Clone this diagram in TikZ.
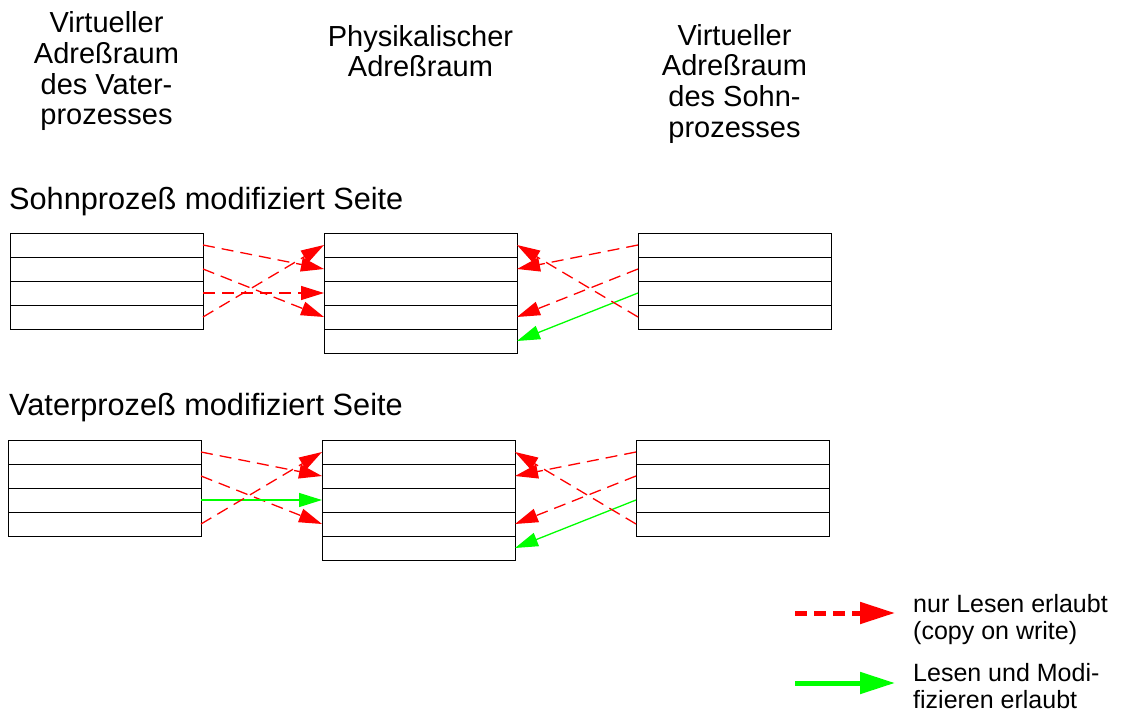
\documentclass[tikz,border=0pt]{standalone}
\usepackage{fontspec}
\setmainfont{Liberation Sans}
\usetikzlibrary{arrows.meta}

\tikzset{
  zeile/.style={draw, line width=0.8pt, minimum width=193pt, minimum height=24pt,
    inner sep=0pt, outer sep=0pt, anchor=north west},
  kopf/.style={anchor=north, align=center, inner sep=0pt,
    font=\fontsize{29pt}{30.7pt}\selectfont},
  titel/.style={anchor=base west, inner sep=0pt, font=\fontsize{30.7pt}{31pt}\selectfont},
  legtext/.style={anchor=north west, align=left, inner sep=0pt,
    font=\fontsize{25pt}{27pt}\selectfont},
  lesen/.style={draw=red, line width=1.3pt, dash pattern=on 12pt off 7pt,
    -{Triangle[length=23pt,width=14pt]}},
  schreiben/.style={draw=green, line width=1.3pt, -{Triangle[length=23pt,width=14pt]}},
}

\begin{document}
\begin{tikzpicture}[x=1pt,y=-1pt]
  \useasboundingbox (0,0) rectangle (1122,712);

  % column headings
  \node[kopf] (hv) at (106.5,11.5) {Virtueller\\Adreßraum\\des Vater-\\prozesses};
  \node[kopf] (hp) at (420.5,25) {Physikalischer\\Adreßraum};
  \node[kopf] (hs) at (734.5,24) {Virtueller\\Adreßraum\\des Sohn-\\prozesses};

  % Sohnprozess modifiziert Seite
  \node[titel] (ts) at (9,209) {Sohnprozeß modifiziert Seite};
  \foreach \i in {1,...,4} {
    \node[zeile] (sv\i) at (10,209+24*\i) {};
    \node[zeile] (ss\i) at (638,209+24*\i) {};
  }
  \foreach \i in {1,...,5}
    \node[zeile] (sp\i) at (324,209+24*\i) {};

  \draw[lesen] (sv1.east) -- (sp2.west);
  \draw[lesen] (sv2.east) -- (sp4.west);
  \draw[lesen] (sv3.east) -- (sp3.west);
  \draw[lesen] (sv4.east) -- (sp1.west);
  \draw[lesen] (ss1.west) -- (sp2.east);
  \draw[lesen] (ss2.west) -- (sp4.east);
  \draw[schreiben] (ss3.west) -- (sp5.east);
  \draw[lesen] (ss4.west) -- (sp1.east);

  % Vaterprozess modifiziert Seite
  \node[titel] (tv) at (9,415) {Vaterprozeß modifiziert Seite};
  \foreach \i in {1,...,4} {
    \node[zeile] (vv\i) at (8,416+24*\i) {};
    \node[zeile] (vs\i) at (636,416+24*\i) {};
  }
  \foreach \i in {1,...,5}
    \node[zeile] (vp\i) at (322,416+24*\i) {};

  \draw[lesen] (vv1.east) -- (vp2.west);
  \draw[lesen] (vv2.east) -- (vp4.west);
  \draw[schreiben] (vv3.east) -- (vp3.west);
  \draw[lesen] (vv4.east) -- (vp1.west);
  \draw[lesen] (vs1.west) -- (vp2.east);
  \draw[lesen] (vs2.west) -- (vp4.east);
  \draw[schreiben] (vs3.west) -- (vp5.east);
  \draw[lesen] (vs4.west) -- (vp1.east);

  % legend
  \coordinate (lr0) at (795,613);
  \coordinate (lr1) at (895,613);
  \coordinate (lg0) at (795,683);
  \coordinate (lg1) at (895,683);
  \draw[red, line width=5pt, dash pattern=on 12pt off 7pt,
    -{Triangle[length=35pt,width=21pt]}] (lr0) -- (lr1);
  \draw[green, line width=5pt, -{Triangle[length=35pt,width=21pt]}] (lg0) -- (lg1);
  \node[legtext] (lt1) at (913,594) {nur Lesen erlaubt\\(copy on write)};
  \node[legtext] (lt2) at (913,663) {Lesen und Modi-\\fizieren erlaubt};
\end{tikzpicture}
\end{document}
